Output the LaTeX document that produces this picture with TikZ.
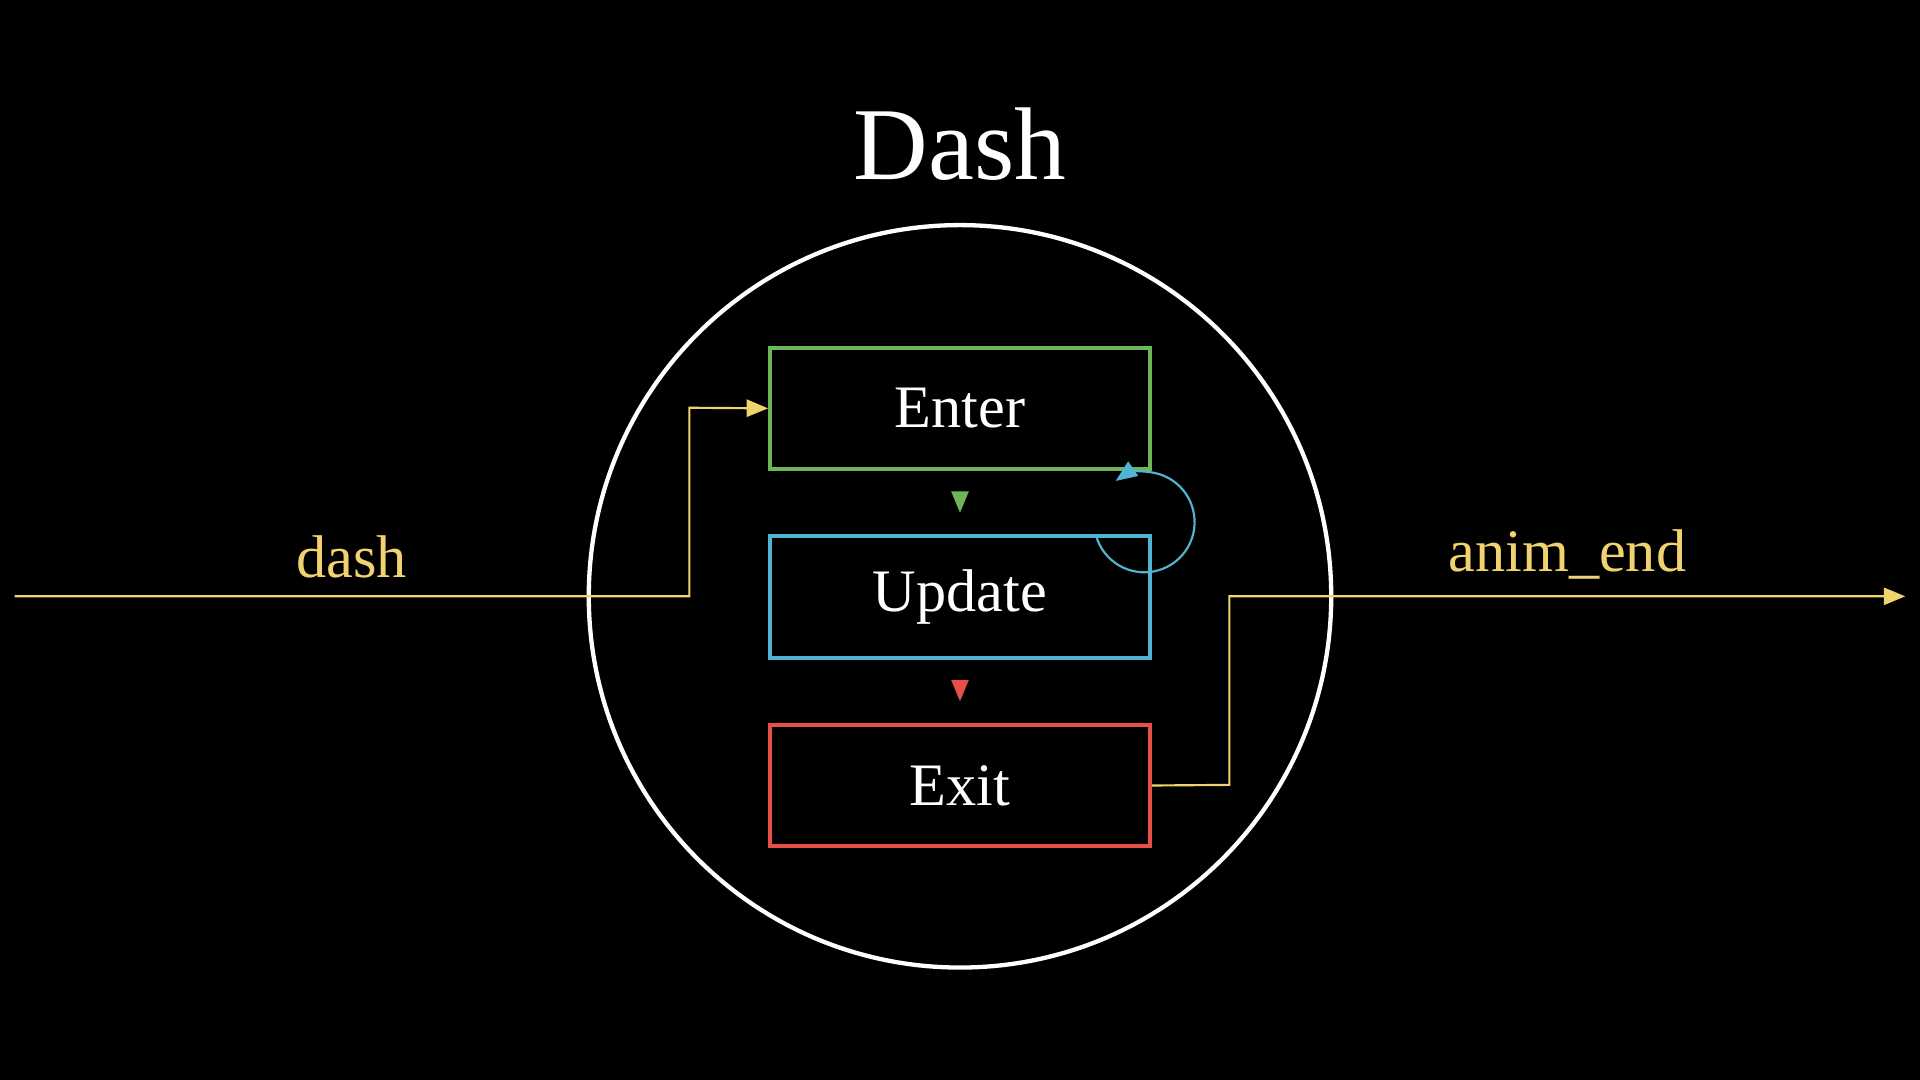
\documentclass[tikz,border=0pt]{standalone}
\usepackage{fontspec}
\setmainfont{Liberation Serif}
\usetikzlibrary{arrows.meta}
\definecolor{cg}{RGB}{110,180,90}
\definecolor{cb}{RGB}{80,180,210}
\definecolor{cr}{RGB}{230,80,70}
\definecolor{cy}{RGB}{240,210,110}
\begin{document}
\begin{tikzpicture}[x=0.01cm,y=-0.01cm,
  box/.style={draw=#1,line width=0.9pt,minimum width=3.1cm,minimum height=0.99cm,text=white,font=\fontsize{14}{16}\selectfont},
  lbl/.style={text=cy,font=\fontsize{14}{16}\selectfont},
  arr/.style={-{Triangle[length=5pt,width=4pt]},line width=0.5pt}]
\fill[black] (0,0) rectangle (1568,882);
\useasboundingbox (0,0) rectangle (1568,882);
\node[text=white,font=\fontsize{24}{28}\selectfont] (title) at (784,118) {Dash};
\node[draw=white,line width=1pt,circle,minimum size=6.06cm] (c) at (784,487) {};
\node[box=cg] (enter) at (784,333.5) {Enter};
\node[box=cb] (update) at (784,487.5) {Update};
\node[box=cr] (exit) at (784,641.5) {Exit};
\coordinate (in) at (12,487);
\coordinate (out) at (1556,487);
\draw[arr,cy] (in) -| (563,333) -- (enter.west);
\draw[arr,cy] (exit.east) -- (1004,641) |- (out);
\draw[arr,cg] ([yshift=-5]enter.south) -- ([yshift=5]update.north);
\draw[arr,cr] ([yshift=-5]update.south) -- ([yshift=5]exit.north);
\draw[arr,cb] (895,437) arc[start angle=165,end angle=-125,radius=41];
\node[lbl] (l1) at (287,455) {dash};
\node[lbl] (l2) at (1280,453) {anim\_end};
\end{tikzpicture}
\end{document}
